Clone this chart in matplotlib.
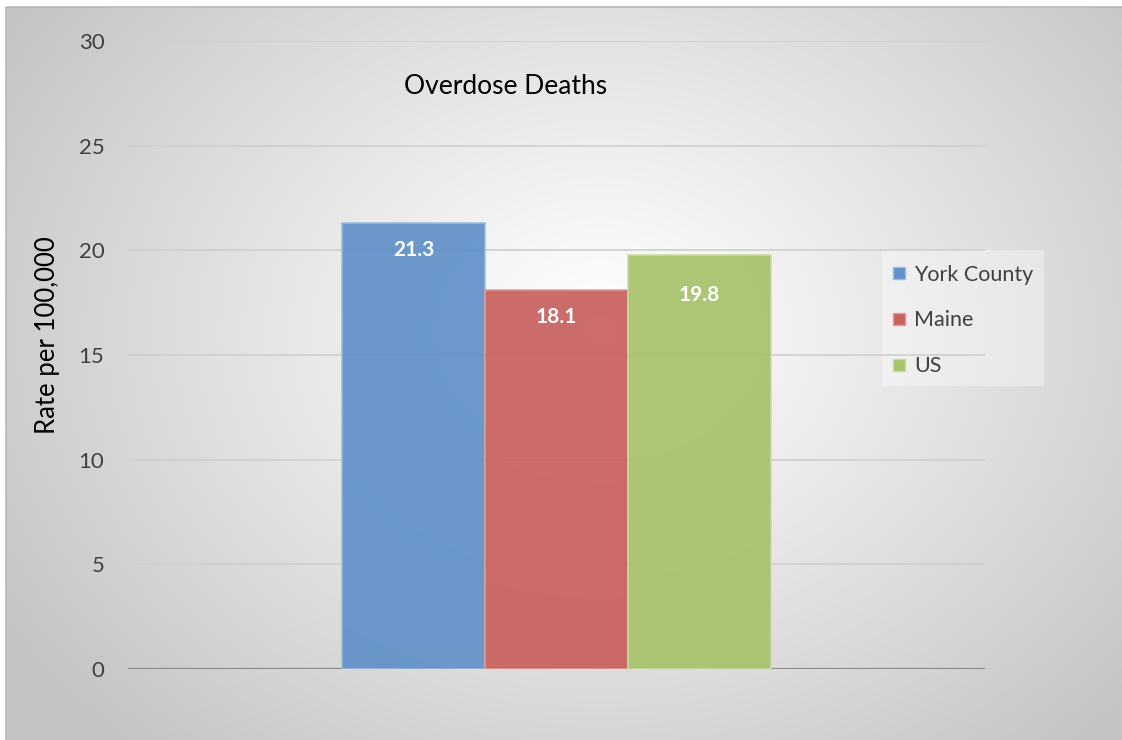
import numpy as np
import matplotlib.pyplot as plt
from matplotlib.lines import Line2D
from matplotlib.patches import Rectangle

# 数据
series = ['York County', 'Maine', 'US']
rates = [21.3, 18.1, 19.8]
colors = ['#6090c8', '#c8605e', '#a6c26a']
edges = ['#9dbbe0', '#e09a98', '#c9dca0']
yticks = [0, 5, 10, 15, 20, 25, 30]
label_drop = [1.3, 1.3, 1.95]   # 数据标签距柱顶的距离（纵轴单位）

W, H = 1122, 740
plt.rcParams['font.family'] = ['Lato', 'DejaVu Sans']
fig = plt.figure(figsize=(W / 100, H / 100), dpi=100)
fig.patch.set_facecolor('white')

# 背景径向渐变
bg = fig.add_axes([0, 0, 1, 1])
yy, xx = np.mgrid[0:H, 0:W]
d = np.sqrt(((xx - 600) / 700.0) ** 2 + ((yy - 330) / 560.0) ** 2)
d = np.clip(d, 0, 1)
g = 1.0 - 0.23 * d ** 1.1
img = np.dstack([g, g, g])
img[:7, :, :] = 1.0
img[:, :6, :] = 1.0
bg.imshow(img, extent=[0, W, H, 0], aspect='auto', interpolation='bilinear')
bg.add_patch(Rectangle((6, 7), W, H, fill=False, edgecolor='#b8b8b8', lw=1.2))
# 图例底框
bg.add_patch(Rectangle((882, 250), 162, 136, facecolor='white', alpha=0.35,
                       edgecolor='none'))
bg.set_xlim(0, W)
bg.set_ylim(H, 0)
bg.axis('off')

# 柱状图
ax = fig.add_axes([128 / W, (H - 669) / H, (985 - 128) / W, (669 - 41) / H])
ax.set_facecolor('none')
x = np.arange(len(series)) - 1
bars = ax.bar(x, rates, width=1.0, color=colors, edgecolor=edges, linewidth=1.2,
              alpha=0.92, zorder=3)
for xi, v, dv in zip(x, rates, label_drop):
    ax.text(xi, v - dv, f'{v}', ha='center', va='center', color='white',
            fontsize=15, fontweight='bold', zorder=4)

ax.set_xlim(-3, 3)
ax.set_ylim(0, 30)
ax.set_yticks(yticks)
ax.yaxis.grid(True, color='#cfcfcf', linewidth=1.2, zorder=1)
ax.axhline(0, color='#8c8c8c', linewidth=1.6, zorder=2)
ax.set_xticks([])
for s in ax.spines.values():
    s.set_visible(False)
ax.tick_params(axis='y', length=0, pad=17, labelsize=16, labelcolor='#404040')
ax.set_ylabel('Rate per 100,000', fontsize=18.5, color='black', labelpad=13.5)
ax.yaxis.label.set_y(0.532)

fig.text(506 / W, 1 - 86 / H, 'Overdose Deaths', ha='center', va='center',
         fontsize=19, color='black')

# 图例
handles = [Line2D([], [], marker='s', linestyle='none', markersize=9,
                  markerfacecolor=c, markeredgecolor=e, markeredgewidth=1)
           for c, e in zip(colors, edges)]
leg = fig.legend(handles, series, loc='upper left',
                 bbox_to_anchor=(882 / W, 1 - 256 / H), frameon=False,
                 fontsize=15.5, labelspacing=1.2, handlelength=0.8,
                 handletextpad=0.3, borderpad=0.4, borderaxespad=0)
for t in leg.get_texts():
    t.set_color('#404040')

fig.savefig('out.png', dpi=100)
